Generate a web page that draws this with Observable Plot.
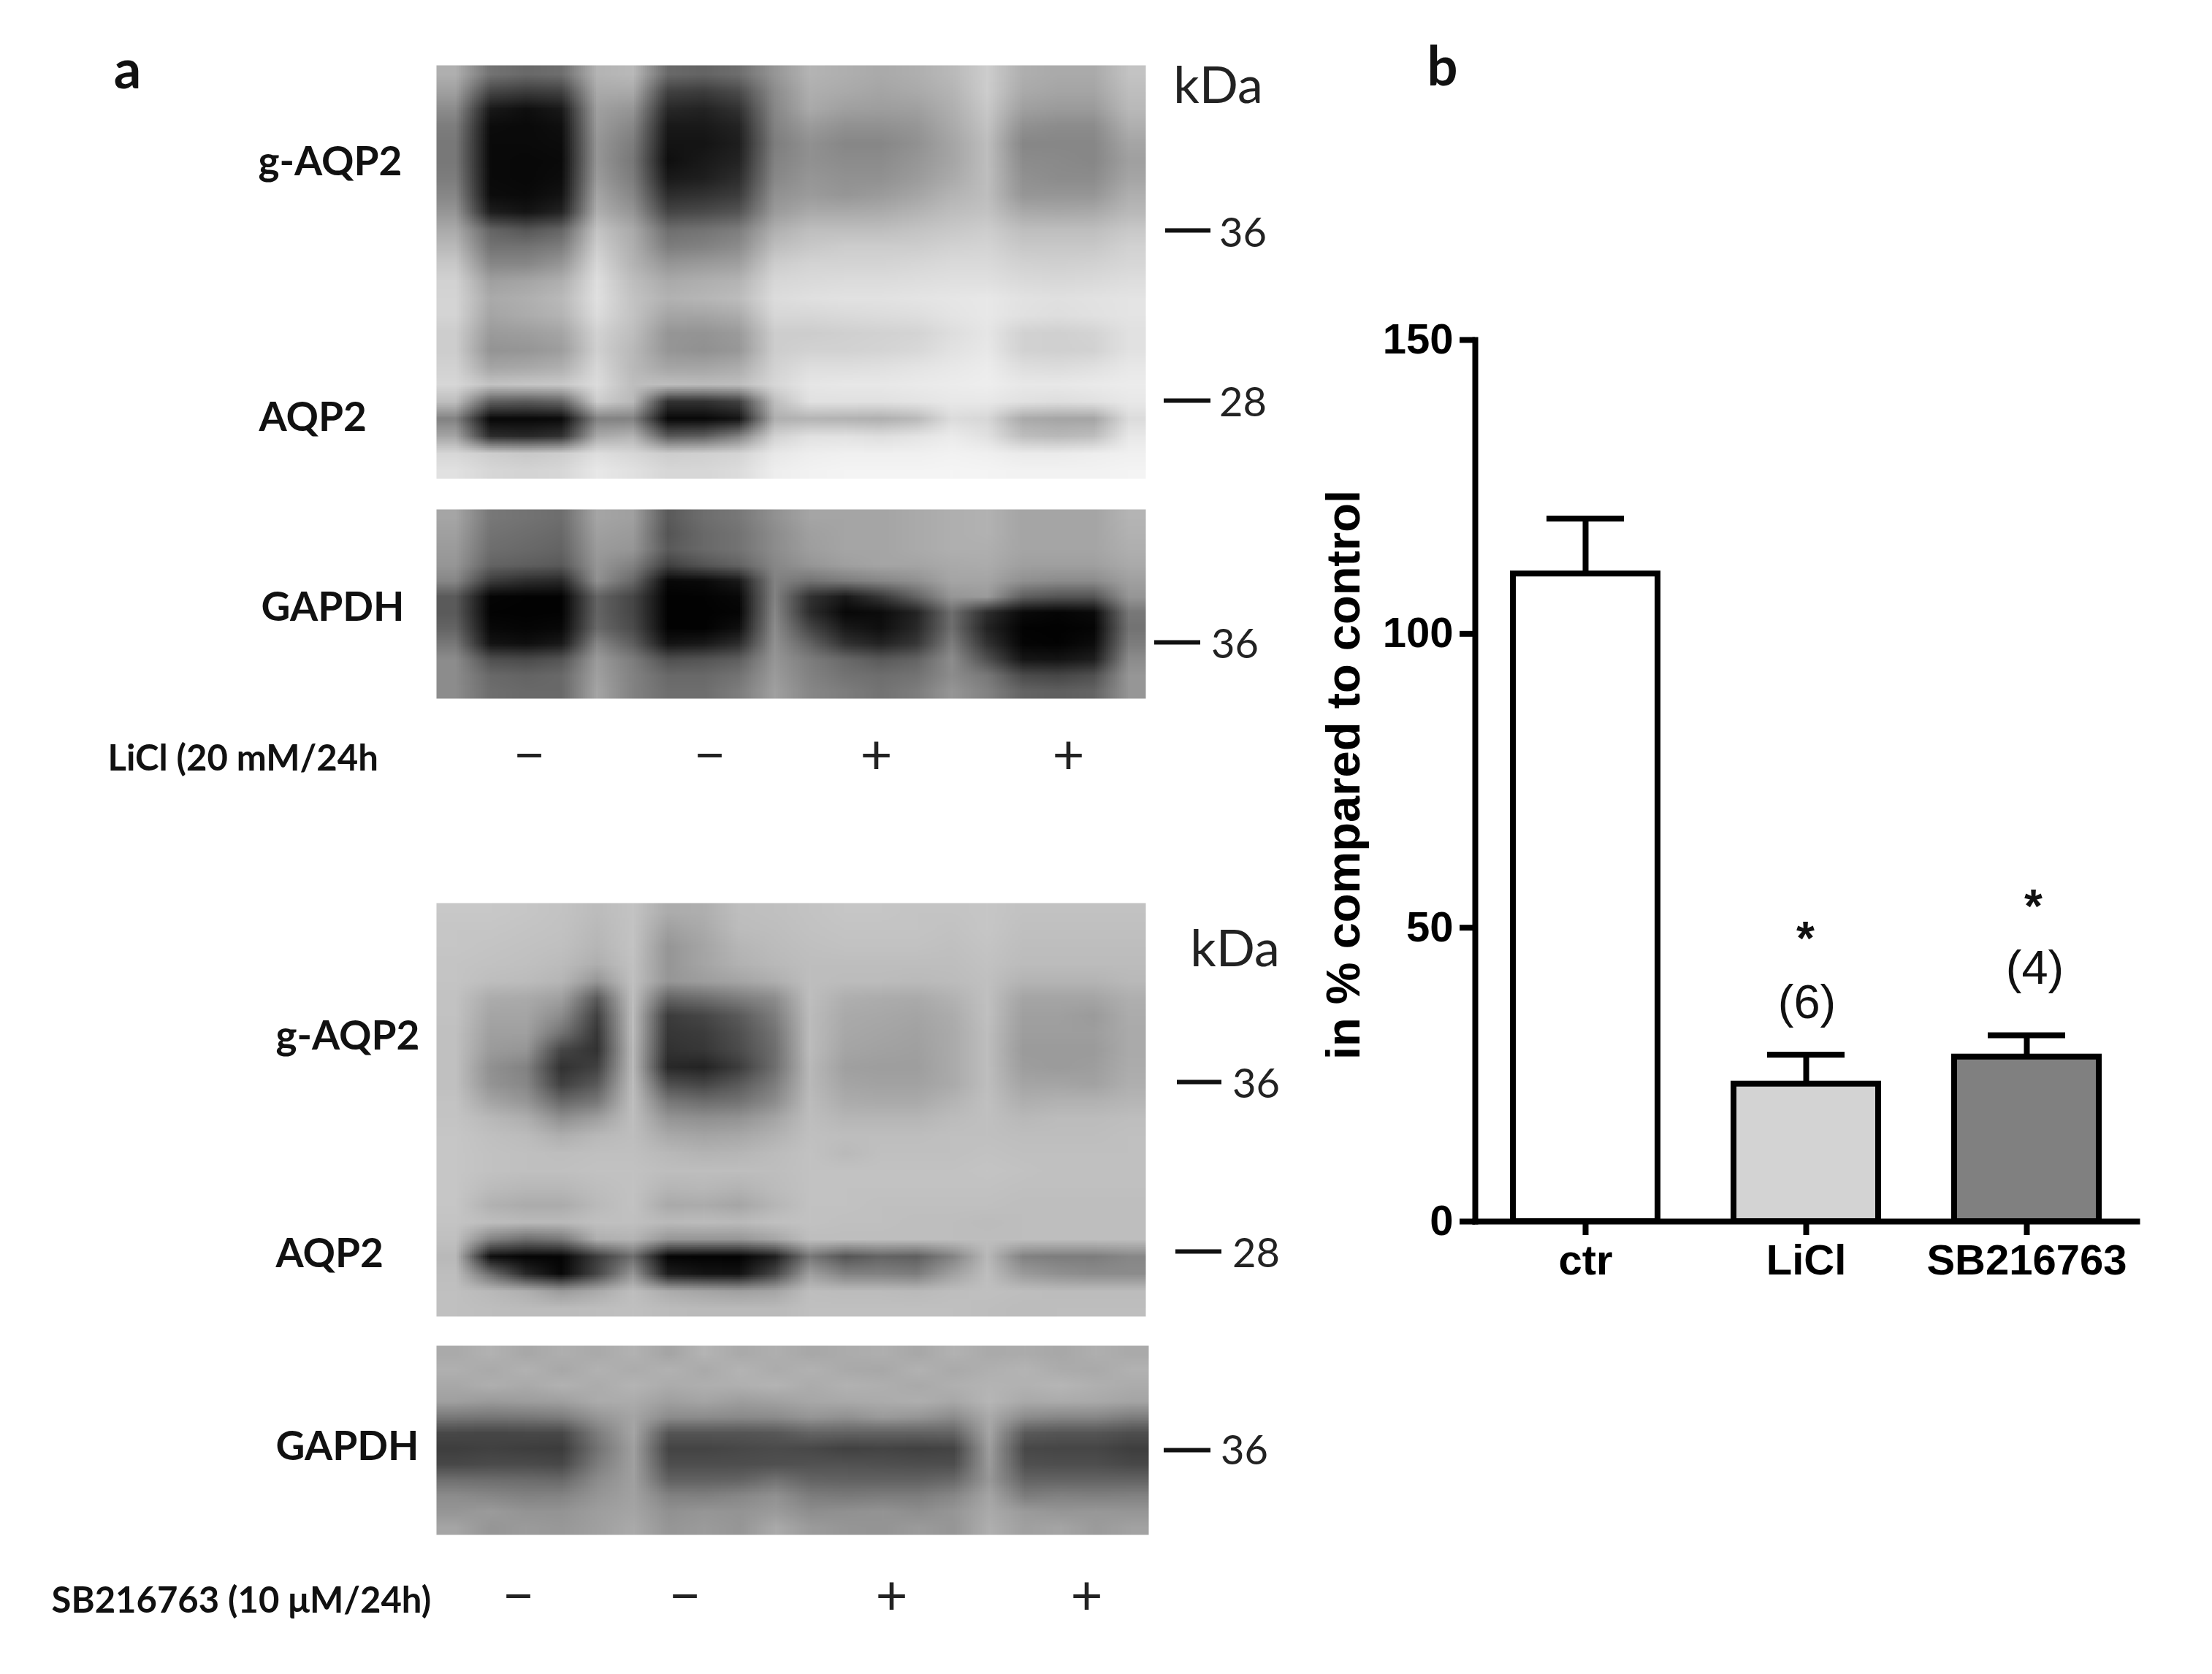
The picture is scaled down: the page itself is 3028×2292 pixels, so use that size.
<!DOCTYPE html>
<html><head><meta charset="utf-8">
<script src="https://cdn.jsdelivr.net/npm/d3@7"></script>
<script src="https://cdn.jsdelivr.net/npm/@observablehq/plot@0.6"></script>
<style>
html,body{margin:0;padding:0;background:#fff}
#root{position:relative;width:3028px;height:2292px;background:#fff;overflow:hidden}
#root svg{position:absolute;top:0;background:transparent}
</style></head><body><div id="root"></div>
<script>
// Panel b values
const groups = ["ctr","LiCl","SB216763"];
const means = [110.2,23.4,28.0];
const errorTops = [119.6,28.4,31.7];
const barFills = ["#ffffff","#d3d3d3","#808080"];
const annotatedGroups = ["LiCl","SB216763"];
const nLabels = ["(6)","(4)"];
const nLabelValues = [37.2,43.0];
const starValues = [48.0,53.4];
const yTicks = [0,50,100,150];

// Panel a densitometry (grey level per lane/row sample)
const blot1 = [
[175,115,105,110,180,185,105,100,110,150,180,175,170,175,185,205,175,170,170,195],
[160,70,60,65,170,170,65,60,75,140,175,170,165,170,180,205,170,165,165,190],
[140,25,15,25,160,150,40,35,50,135,170,160,158,160,175,200,160,155,155,185],
[125,12,10,15,155,135,25,25,35,130,155,145,145,150,170,195,145,140,140,175],
[120,10,10,12,150,125,20,20,30,125,145,135,135,145,165,190,135,135,135,165],
[120,10,8,10,150,120,15,25,35,130,145,140,140,150,165,190,140,138,135,160],
[125,10,8,12,155,125,25,30,45,135,150,145,145,155,170,190,145,140,140,165],
[135,12,10,18,165,135,45,50,60,145,155,150,155,165,180,190,150,150,150,175],
[150,30,20,35,175,150,70,75,85,155,170,170,172,180,190,195,170,168,170,185],
[170,100,85,100,195,170,110,115,125,175,190,190,190,195,200,205,190,190,190,200],
[185,115,115,125,205,175,125,130,140,190,200,205,205,205,210,212,200,200,200,210],
[200,135,135,150,215,180,150,155,160,205,212,212,212,215,218,218,210,208,210,215],
[210,160,165,175,222,190,170,175,180,215,218,220,220,222,224,224,218,216,218,222],
[212,170,175,185,224,195,178,182,188,220,224,226,226,228,230,232,226,224,226,228],
[212,165,172,180,220,195,165,165,172,215,215,218,220,222,228,232,225,222,225,228],
[205,155,158,165,210,190,150,148,155,205,205,208,210,212,222,230,210,208,212,225],
[205,148,150,158,208,185,150,145,152,205,210,210,212,216,226,232,210,208,210,226],
[210,165,168,175,215,185,165,165,172,210,222,222,224,228,232,236,222,220,224,232],
[215,195,198,200,220,190,190,188,190,215,230,232,232,234,236,238,232,232,234,236],
[190,95,90,100,205,185,50,50,65,190,225,225,225,228,232,232,225,222,225,232],
[130,8,8,10,130,130,8,8,20,175,180,178,175,185,220,215,170,165,165,220],
[165,45,40,50,170,180,90,95,130,210,225,226,222,228,235,225,190,185,190,232],
[215,205,200,205,222,215,205,208,212,232,238,240,240,240,242,240,235,235,238,240],
[225,215,212,215,232,225,215,215,220,238,242,244,244,244,245,244,242,242,242,244]];
const gapdh1 = [
[165,120,115,110,165,160,90,110,120,145,165,165,165,170,175,178,165,165,165,180],
[160,115,110,105,160,155,85,105,115,140,160,165,165,170,175,178,165,165,165,178],
[155,110,105,100,155,150,90,105,115,140,158,165,165,170,175,175,165,165,165,175],
[150,100,95,90,150,130,65,85,100,135,150,160,165,165,170,172,160,160,160,170],
[135,60,45,40,145,105,8,10,25,130,115,125,135,145,165,165,145,140,140,160],
[90,5,3,3,100,70,2,3,8,130,50,25,55,100,150,155,95,85,85,150],
[90,3,2,3,100,70,2,2,5,135,45,8,12,35,110,45,10,5,10,120],
[100,8,5,8,105,75,3,2,15,140,70,25,15,40,110,35,3,2,5,115],
[120,20,15,25,135,95,20,25,45,145,100,50,35,55,125,50,5,3,12,125],
[140,80,75,85,155,125,80,85,95,150,125,105,90,100,140,80,22,20,30,140],
[140,105,100,105,160,130,105,105,115,155,130,115,110,115,140,120,75,70,80,150],
[140,110,105,105,165,130,110,110,125,160,135,125,115,125,150,130,100,95,100,150]];
const blot2 = [
[200,200,198,195,188,195,172,175,190,192,195,198,198,196,196,198,194,194,194,194],
[198,198,196,194,185,195,160,170,188,190,194,196,196,196,194,198,192,192,192,192],
[198,196,194,192,182,195,150,165,182,188,192,194,194,194,192,196,190,190,190,190],
[196,194,192,188,175,193,150,165,178,185,190,190,190,190,190,194,188,188,188,188],
[196,190,188,182,150,192,150,158,165,175,190,188,188,186,188,192,180,180,180,185],
[194,172,170,160,90,190,100,110,125,140,190,175,172,170,178,192,165,165,165,175],
[194,165,165,140,65,188,60,70,90,125,188,170,168,165,172,192,160,160,155,172],
[192,160,160,115,55,188,55,60,80,115,188,168,165,162,170,190,158,158,158,170],
[192,155,150,70,50,185,50,55,75,110,188,165,162,160,170,190,155,155,155,170],
[192,145,130,50,65,185,40,35,60,110,185,160,158,158,170,190,158,155,158,172],
[192,148,135,65,90,188,80,70,90,125,185,165,162,162,170,190,165,165,162,175],
[195,165,150,105,120,190,120,110,115,140,188,172,170,170,180,192,175,178,178,182],
[196,185,175,145,160,190,150,145,148,165,190,182,182,182,188,192,185,188,188,190],
[198,192,188,175,185,190,170,165,168,178,192,190,190,190,192,192,190,190,190,192],
[198,194,192,190,192,192,185,180,182,188,194,186,192,192,192,194,192,192,192,192],
[198,194,192,192,194,194,190,190,190,190,194,194,194,194,194,196,194,192,192,192],
[198,188,184,184,190,194,182,184,180,188,194,194,194,194,194,194,192,192,192,192],
[198,178,172,172,186,194,170,172,166,182,194,194,192,192,192,192,190,190,190,190],
[196,190,186,186,192,192,186,188,186,192,194,192,192,190,190,188,190,190,190,190],
[192,130,110,120,175,180,150,150,150,165,190,190,190,190,190,190,190,190,190,190],
[185,15,5,5,60,110,5,3,3,30,120,85,100,95,130,185,130,125,125,135],
[190,110,40,8,70,150,30,20,18,70,160,130,130,125,160,190,155,145,140,140],
[192,185,175,155,170,190,172,165,160,165,190,188,188,186,190,192,190,188,188,188],
[192,190,188,188,190,192,188,186,186,186,192,192,192,192,192,190,188,190,190,190]];
const gapdh2 = [
[170,178,168,175,170,178,165,180,170,175,168,172,175,168,178,170,172,168,175,170],
[176,170,178,168,178,172,178,170,180,172,178,170,168,178,170,176,180,172,170,178],
[168,175,170,178,172,180,172,175,176,180,172,178,175,170,176,180,178,182,176,172],
[160,155,158,160,172,172,160,165,158,162,168,170,172,175,168,182,170,172,170,165],
[120,118,120,125,150,165,140,140,138,140,150,145,155,150,140,170,140,135,135,125],
[72,70,72,72,125,165,85,85,85,88,100,98,98,98,100,165,90,85,85,78],
[62,65,62,60,115,160,68,68,72,75,72,65,68,65,68,158,72,70,70,62],
[72,75,75,72,125,160,78,78,78,80,82,82,80,78,78,155,80,78,78,72],
[112,110,108,105,140,160,98,98,100,115,100,98,98,98,105,152,100,100,100,100],
[140,135,130,132,150,162,130,128,135,145,125,122,125,125,135,165,125,130,128,130],
[150,155,148,148,158,165,145,150,148,155,142,145,148,142,150,170,155,150,152,150],
[165,150,155,152,160,170,150,155,150,170,155,150,148,155,150,175,160,165,155,162]];

// Text of panel a
const bandNames = ["g-AQP2","AQP2","GAPDH","g-AQP2","AQP2","GAPDH"];
const treatments = ["LiCl (20 mM/24h","SB216763 (10 μM/24h)"];
const treatmentSigns = ["−","−","+","+","−","−","+","+"];
const kDaMarks = ["36","28","36","36","28","36"];

// Layout of panel a, in page pixels (the x and y scales below are pixel scales)
const bandNameX = [353,354,357,377,377,377];
const bandNameY = [222,572,832,1419,1717,1981];
const treatmentX = [147,70];
const treatmentY = [1039,2192];
const signX = [724,971,1199,1462,709,937,1220,1487];
const signY = [1035,1035,1035,1035,2186,2186,2186,2186];
const kDaTitleX = [1667,1690];
const kDaTitleY = [118,1300];
const tickX1 = [1595,1593,1580,1611,1609,1593];
const tickX2 = [1657,1657,1643,1672,1672,1657];
const tickY = [315,548,879,1481,1713,1985];
const markX = [1701,1701,1690,1719,1719,1703];
const markY = [320,552,883,1485,1717,1987];
const panelLetterA = {x:174,y:97};

const sansBold = {fontFamily:"Lato",fontWeight:700};
const blot = (m,x1,x2,y1,y2)=>Plot.raster(m.flat(),{width:m[0].length,height:m.length,x1,x2,y1,y2,fill:d=>d,imageRendering:"auto"});
const idx = a=>a.map((_,i)=>i);

const panelA = Plot.plot({
  width:1800,height:2292,margin:0,style:{background:"transparent"},
  x:{domain:[0,1800],range:[0,1800],axis:null},
  y:{domain:[0,2292],range:[0,2292],axis:null},
  color:{type:"linear",domain:[0,255],range:["#000000","#ffffff"]},
  marks:[
    blot(blot1,597,1568,89,655),
    blot(gapdh1,597,1568,697,956),
    blot(blot2,597,1568,1236,1802),
    blot(gapdh2,597,1572,1842,2101),
    Plot.text(idx(bandNames),{x:i=>bandNameX[i],y:i=>bandNameY[i],text:i=>bandNames[i],textAnchor:"start",fontSize:55,fill:"#111",...sansBold}),
    Plot.text(idx(treatments),{x:i=>treatmentX[i],y:i=>treatmentY[i],text:i=>treatments[i],textAnchor:"start",fontSize:49,fill:"#111",...sansBold}),
    Plot.text(idx(treatmentSigns),{x:i=>signX[i],y:i=>signY[i],text:i=>treatmentSigns[i],fontSize:76,fill:"#222",fontFamily:"Lato"}),
    Plot.text(idx(kDaTitleX),{x:i=>kDaTitleX[i],y:i=>kDaTitleY[i],text:()=>"kDa",fontSize:70,fill:"#222",fontFamily:"Lato"}),
    Plot.ruleY(idx(tickY),{y:i=>tickY[i],x1:i=>tickX1[i],x2:i=>tickX2[i],stroke:"#111",strokeWidth:6}),
    Plot.text(idx(kDaMarks),{x:i=>markX[i],y:i=>markY[i],text:i=>kDaMarks[i],fontSize:56,fill:"#222",fontFamily:"Lato"}),
    Plot.text(["a"],{x:()=>panelLetterA.x,y:()=>panelLetterA.y,fontSize:74,fill:"#111",...sansBold})
  ]
});
panelA.style.left="0px";

const rows = groups.map((g,i)=>({g,mean:means[i],top:errorTops[i]}));
const arial = "Liberation Sans";
const annotationShift = [-1,9];
const panelB = Plot.plot({
  width:1228,height:2292,marginLeft:219,marginRight:103,marginTop:465,marginBottom:620,
  style:{background:"transparent",overflow:"visible"},
  x:{domain:groups,padding:0.345,paddingOuter:0.17,axis:null},
  y:{domain:[0,150],axis:null},
  color:{type:"identity"},
  marks:[
    Plot.ruleX(rows,{x:"g",y1:"mean",y2:"top",strokeWidth:8,stroke:"#000"}),
    Plot.tickY(rows,{x:"g",y:"top",strokeWidth:8,stroke:"#000",insetLeft:46,insetRight:46}),
    Plot.barY(rows,{x:"g",y:"mean",fill:(d,i)=>barFills[i],stroke:"#000",strokeWidth:8}),
    Plot.frame({anchor:"left",stroke:"#000",strokeWidth:8}),
    Plot.frame({anchor:"bottom",stroke:"#000",strokeWidth:8}),
    Plot.axisY({ticks:yTicks,tickSize:21,tickPadding:9,strokeWidth:8,stroke:"#000",label:null,fontSize:58,fontWeight:700,fontFamily:arial,fill:"#000"}),
    Plot.axisX({tickSize:19,tickPadding:12,strokeWidth:8,stroke:"#000",label:null,fontSize:58,fontWeight:700,fontFamily:arial,fill:"#000"}),
    Plot.text(["in % compared to control"],{y:()=>76,frameAnchor:"left",textAnchor:"middle",dx:-179,rotate:-90,fontSize:65,fontWeight:700,fontFamily:arial,fill:"#000"}),
    ...annotatedGroups.flatMap((g,i)=>[
      Plot.text([g],{x:d=>d,y:()=>nLabelValues[i],text:()=>nLabels[i],dx:annotationShift[i]+2,fontSize:65,fontFamily:arial,fill:"#111"}),
      Plot.text([g],{x:d=>d,y:()=>starValues[i],text:()=>"*",dx:annotationShift[i],fontSize:64,fontWeight:700,fontFamily:arial,fill:"#111"})
    ]),
    Plot.text(["b"],{frameAnchor:"top-left",textAnchor:"middle",dx:-45,dy:-372,text:d=>d,lineAnchor:"middle",fontSize:74,fill:"#111",...sansBold})
  ]
});
panelB.style.left="1800px";

document.getElementById("root").append(panelA,panelB);
</script></body></html>
